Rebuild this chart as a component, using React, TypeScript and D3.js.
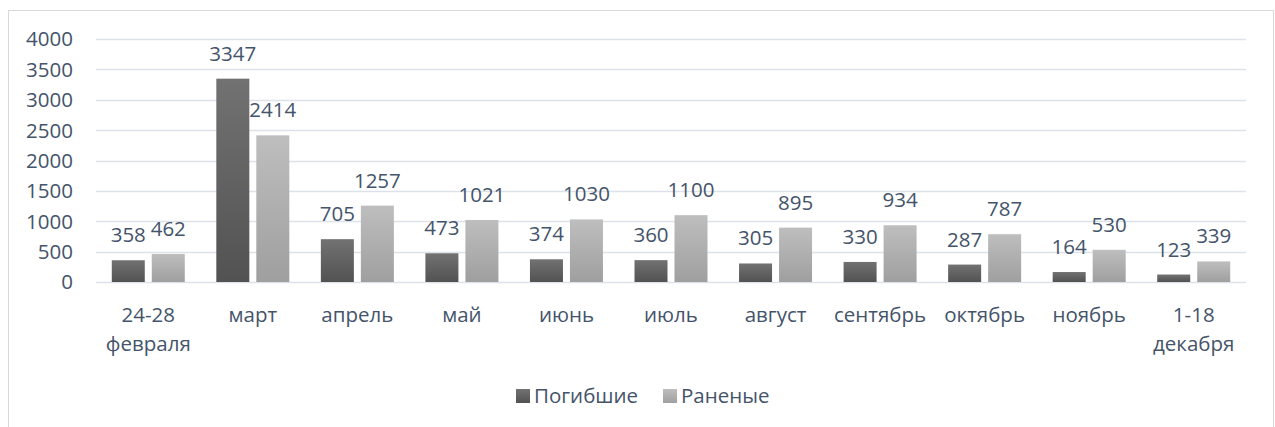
import React, { useRef, useEffect } from 'react';
import * as d3 from 'd3';

const categories = ['24-28\nфевраля', 'март', 'апрель', 'май', 'июнь', 'июль', 'август', 'сентябрь', 'октябрь', 'ноябрь', '1-18\nдекабря'];
const killed = [358, 3347, 705, 473, 374, 360, 305, 330, 287, 164, 123];
const wounded = [462, 2414, 1257, 1021, 1030, 1100, 895, 934, 787, 530, 339];
const seriesNames = ['Погибшие', 'Раненые'];
const yTicks = [0, 500, 1000, 1500, 2000, 2500, 3000, 3500, 4000];

const App = () => {
  const chartRef = useRef<SVGSVGElement>(null);

  useEffect(() => {
    const width = 1275;
    const height = 427;
    const plot = { left: 96, right: 1246, top: 39, bottom: 282 };
    const textColor = '#44546a';
    const font = '"Open Sans", sans-serif';
    const fontSize = 20.5;

    const svg = d3.select(chartRef.current);
    svg.selectAll('*').remove();
    svg.attr('width', width).attr('height', height);

    // gradients for bars
    const defs = svg.append('defs');
    const grads = [
      { id: 'gDark', top: '#727272', bottom: '#525252' },
      { id: 'gLight', top: '#bebebe', bottom: '#9f9f9f' },
    ];
    grads.forEach(g => {
      const lg = defs.append('linearGradient')
        .attr('id', g.id)
        .attr('x1', 0).attr('y1', 0).attr('x2', 0).attr('y2', 1);
      lg.append('stop').attr('offset', '0%').attr('stop-color', g.top);
      lg.append('stop').attr('offset', '100%').attr('stop-color', g.bottom);
    });

    //chart border
    svg.append('rect')
      .attr('x', 8.5).attr('y', 10.5)
      .attr('width', 1265).attr('height', 430)
      .attr('fill', '#fff')
      .attr('stroke', '#d9d9d9');

    const y = d3.scaleLinear().domain([0, 4000]).range([plot.bottom, plot.top]);
    const x0 = d3.scaleBand().domain(categories).range([plot.left, plot.right]);
    const groupW = 73;
    const x1 = d3.scaleBand().domain(seriesNames).range([0, groupW]).paddingInner(7 / 40);

    //gridlines
    svg.append('g')
      .selectAll('line')
      .data(yTicks)
      .join('line')
      .attr('x1', plot.left).attr('x2', plot.right)
      .attr('y1', d => Math.round(y(d)) + 0.5).attr('y2', d => Math.round(y(d)) + 0.5)
      .attr('stroke', '#dde2ea')
      .attr('stroke-width', 1.5);

    //y labels
    svg.append('g')
      .selectAll('text')
      .data(yTicks)
      .join('text')
      .attr('x', 73)
      .attr('y', d => y(d))
      .attr('dy', '0.36em')
      .attr('text-anchor', 'end')
      .style('font-family', font)
      .style('font-size', `${fontSize}px`)
      .style('fill', textColor)
      .text(d => d);

    //bars
    const series = [
      { name: seriesNames[0], values: killed, fill: 'url(#gDark)' },
      { name: seriesNames[1], values: wounded, fill: 'url(#gLight)' },
    ];
    series.forEach(s => {
      const g = svg.append('g');
      const off = (x0.bandwidth() - groupW) / 2 + (x1(s.name) ?? 0);
      g.selectAll('rect')
        .data(s.values)
        .join('rect')
        .attr('x', (d, i) => (x0(categories[i]) ?? 0) + off)
        .attr('y', d => y(d))
        .attr('width', x1.bandwidth())
        .attr('height', d => y(0) - y(d))
        .attr('fill', s.fill);

      //value labels
      g.selectAll('text')
        .data(s.values)
        .join('text')
        .attr('x', (d, i) => (x0(categories[i]) ?? 0) + off + x1.bandwidth() / 2)
        .attr('y', d => y(d) - 18)
        .attr('text-anchor', 'middle')
        .style('font-family', font)
        .style('font-size', `${fontSize}px`)
        .style('fill', textColor)
        .text(d => d);
    });

    //category labels
    const cat = svg.append('g')
      .selectAll('text')
      .data(categories)
      .join('text')
      .attr('x', d => (x0(d) ?? 0) + x0.bandwidth() / 2)
      .attr('y', 322)
      .attr('text-anchor', 'middle')
      .style('font-family', font)
      .style('font-size', `${fontSize}px`)
      .style('fill', textColor);
    cat.each(function (d) {
      const lines = d.split('\n');
      d3.select(this).selectAll('tspan')
        .data(lines)
        .join('tspan')
        .attr('x', (x0(d) ?? 0) + x0.bandwidth() / 2)
        .attr('dy', (l, i) => (i === 0 ? 0 : 29))
        .text(l => l);
    });

    //legend
    const legend = [
      { name: seriesNames[0], fill: 'url(#gDark)', x: 516 },
      { name: seriesNames[1], fill: 'url(#gLight)', x: 663 },
    ];
    legend.forEach(l => {
      svg.append('rect')
        .attr('x', l.x).attr('y', 389)
        .attr('width', 14).attr('height', 14)
        .attr('fill', l.fill);
      svg.append('text')
        .attr('x', l.x + 18).attr('y', 403)
        .style('font-family', font)
        .style('font-size', `${fontSize}px`)
        .style('fill', textColor)
        .text(l.name);
    });
  }, []);

  return (
    <div style={{ position: 'absolute', left: 0, top: 0 }}>
      <svg ref={chartRef} style={{ display: 'block' }}></svg>
    </div>
  );
};

export default App;
